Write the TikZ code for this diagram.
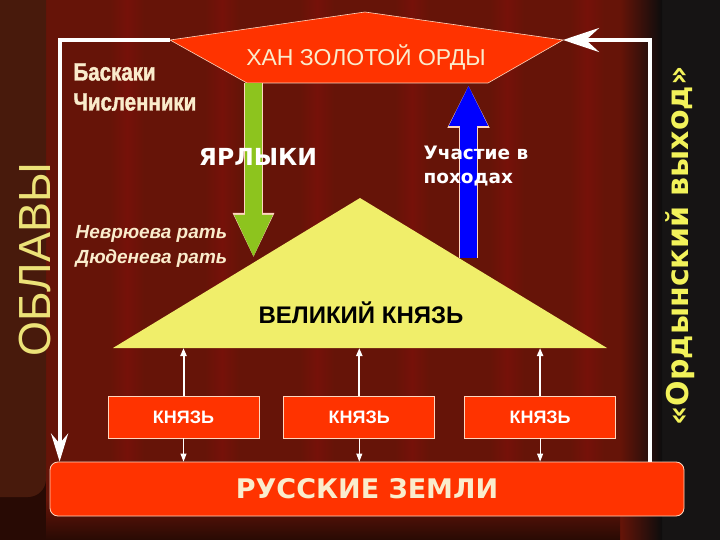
\documentclass[tikz,border=0pt]{standalone}
\usepackage{fontspec}
\setmainfont{Liberation Sans}
\newfontfamily\widefont{DejaVu Sans}
\newfontfamily\narrowfont[FakeStretch=0.82,FakeBold=1.5]{Liberation Sans}
\usetikzlibrary{arrows.meta,positioning}

\definecolor{curtain}{RGB}{102,20,8}
\definecolor{curtainstripe}{RGB}{118,17,9}
\definecolor{curtaindark}{RGB}{40,10,4}
\definecolor{fold}{RGB}{72,26,12}
\definecolor{stage}{RGB}{22,20,20}
\definecolor{hordered}{RGB}{255,51,0}
\definecolor{edge}{RGB}{255,214,190}
\definecolor{princeyellow}{RGB}{240,238,106}
\definecolor{labelgreen}{RGB}{141,196,30}
\definecolor{campblue}{RGB}{0,0,255}
\definecolor{raidyellow}{RGB}{236,226,120}
\definecolor{tributeyellow}{RGB}{242,242,90}
\definecolor{cream}{RGB}{250,236,204}

\tikzset{
  princebox/.style={draw=edge, fill=hordered, line width=0.8pt, text=white,
    font=\bfseries\fontsize{18}{20}\selectfont,
    minimum width=151, minimum height=42, inner sep=0pt},
  loopline/.style={draw=white, line width=4pt},
  thinarrow/.style={draw=white, -{Triangle[width=6pt,length=8pt]}},
}

\begin{document}
\begin{tikzpicture}[x=1pt,y=-1pt]
	\useasboundingbox (0,0) rectangle (720,540);

	% background curtain
	\fill[stage] (0,0) rectangle (720,540);
	\fill[curtain] (0,0) rectangle (620,540);
	\foreach \sx in {110,205,300,395,490,570}
		\shade[left color=curtain, right color=curtain, middle color=curtainstripe] (\sx,0) rectangle (\sx+34,540);
	\shade[left color=curtain, right color=black!95] (620,0) rectangle (662,540);
	\shade[top color=curtain, bottom color=curtaindark] (0,500) rectangle (620,540);
	\fill[curtaindark] (0,480) rectangle (46,540);
	\fill[fold, rounded corners=18] (-20,-20) -- (46,-20) -- (46,497) -- (-20,497) -- cycle;

	% great prince
	\coordinate (apex) at (360,198);
	\coordinate (baseL) at (113,348);
	\coordinate (baseR) at (607,348);
	\fill[princeyellow] (baseL) -- (apex) -- (baseR) -- cycle;
	\node[font=\bfseries\fontsize{24}{26}\selectfont] (grand) at (361,313) {ВЕЛИКИЙ КНЯЗЬ};

	% horde
	\coordinate (khanL) at (170,40);
	\coordinate (khanR) at (563,40);
	\draw[draw=edge, fill=hordered, line width=0.6pt] (khanL) -- (365,12) -- (khanR) -- (488,83) -- (247,83) -- cycle;
	\node[text=cream, font=\fontsize{23}{26}\selectfont] (khan) at (366,57) {ХАН ЗОЛОТОЙ ОРДЫ};

	% russian lands and princes
	\node[draw=edge, fill=hordered, line width=0.8pt, rounded corners=8, minimum width=634, minimum height=54,
		text=cream, font=\widefont\bfseries\fontsize{27}{30}\selectfont] (land) at (367,489) {РУССКИЕ ЗЕМЛИ};
	\node[princebox] (k1) at (183.5,417) {КНЯЗЬ};
	\node[princebox, right=24 of k1] (k2) {КНЯЗЬ};
	\node[princebox, right=29 of k2] (k3) {КНЯЗЬ};

	\draw[thinarrow, line width=2pt] (k1.north) -- (k1.north |- baseL);
	\draw[thinarrow, line width=2pt] (k2.north) -- (k2.north |- baseL);
	\draw[thinarrow, line width=2pt] (k3.north) -- (k3.north |- baseL);
	\draw[thinarrow, line width=1pt] (k1.south) -- (k1.south |- land.north);
	\draw[thinarrow, line width=1pt] (k2.south) -- (k2.south |- land.north);
	\draw[thinarrow, line width=1pt] (k3.south) -- (k3.south |- land.north);

	% raids and tribute
	\draw[loopline, -{Stealth[width=17pt,length=28pt,inset=10pt]}] (khanL) -| ([xshift=10pt]land.north west);
	\draw[loopline, -{Stealth[width=24pt,length=36pt,inset=13pt]}] ([xshift=-34pt]land.north east) |- (khanR);

	% labels and campaigns
	\coordinate (yarTop) at (253.5,83);
	\coordinate (yarTip) at (253.5,258);
	\draw[edge, line width=19pt, -{Triangle[width=38pt,length=45pt]}] (yarTop) -- (yarTip);
	\draw[labelgreen, line width=17pt, -{Triangle[width=35pt,length=43pt]}] (yarTop) -- (yarTip);
	\coordinate (campBot) at (468.5,258);
	\coordinate (campTip) at (468.5,85);
	\draw[edge, line width=19pt, -{Triangle[width=39pt,length=43pt]}] (campBot) -- (campTip);
	\draw[campblue, line width=17pt, -{Triangle[width=36pt,length=41pt]}] (campBot) -- (campTip);

	\node[text=white, font=\widefont\bfseries\fontsize{23.5}{26}\selectfont] (yarlyki) at (258,157) {ЯРЛЫКИ};
	\node[anchor=west, align=left, text=white, font=\widefont\bfseries\fontsize{18.5}{24}\selectfont] (pohody) at (420,166) {Участие в\\походах};
	\node[anchor=west, align=left, text=cream, font=\narrowfont\bfseries\fontsize{25}{30}\selectfont] (baskaki) at (70,87) {Баскаки\\Численники};
	\node[anchor=west, align=left, text=cream, font=\bfseries\itshape\fontsize{19}{25}\selectfont] (rati) at (72,246) {Неврюева рать\\Дюденева рать};

	\node[rotate=90, anchor=base, text=raidyellow, font=\fontsize{45}{45}\selectfont] (raids) at (50,260) {ОБЛАВЫ};
	\node[rotate=90, anchor=base, text=tributeyellow, font=\widefont\bfseries\fontsize{30}{30}\selectfont] (tribute) at (688,246) {«Ордынский выход»};
\end{tikzpicture}
\end{document}
